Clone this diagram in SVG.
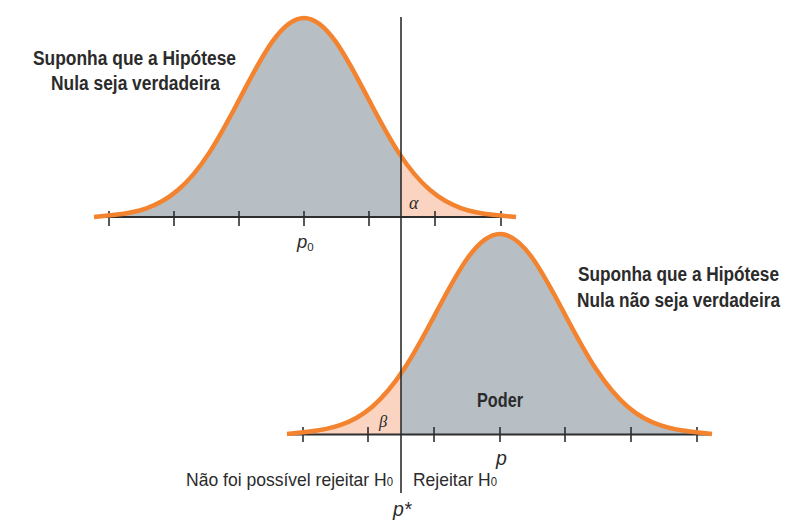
<svg xmlns="http://www.w3.org/2000/svg" width="785" height="523" viewBox="0 0 785 523">
<style>
.lbl{font-family:"Liberation Sans",Arial,sans-serif;fill:#2b2b2b}
.b{font-weight:bold;font-size:19.5px}
.n{font-size:18.5px}
.it{font-style:italic}
.gr{font-family:"Liberation Serif","Times New Roman",serif;font-style:italic;fill:#2b2b2b}
.curve{fill:none;stroke:#f3832f;stroke-width:4.5;stroke-linejoin:round;stroke-linecap:butt}
.axis{stroke:#2e2e2e;stroke-width:1.8;fill:none}
.tick{stroke:#2e2e2e;stroke-width:1.6}
.grey{fill:#b7bfc5}
.peach{fill:#fbd4c1}
</style>
<defs>
<path id="topArea" d="M94,217 L115,214.79 C125.5,213.68 136,211.9 146.5,208.26 C157,204.62 167.5,199.05 178,190.07 C188.5,181.09 199,168.53 209.5,152.38 C220,136.23 230.5,116.43 241,96.31 C251.5,76.19 262,56.01 272.5,41.38 C283,26.75 293.5,18 304,18 C314.5,18 325,26.75 335.5,41.38 C346,56.01 356.5,76.19 367,96.31 C377.5,116.43 388,136.23 398.5,152.38 C409,168.53 419.5,181.09 430,190.07 C440.5,199.05 451,204.62 461.5,208.26 C472,211.9 482.5,213.68 493,214.79 L516,217"/>
<path id="botArea" d="M287,434 L308,431.78 C318.67,430.67 329.33,428.87 340,425.21 C350.67,421.55 361.33,415.96 372,406.94 C382.67,397.92 393.33,385.29 404,369.06 C414.67,352.83 425.33,332.92 436,312.7 C446.67,292.48 457.33,272.21 468,257.5 C478.67,242.79 489.33,234 500,234 C510.67,234 521.33,242.79 532,257.5 C542.67,272.21 553.33,292.48 564,312.7 C574.67,332.92 585.33,352.83 596,369.06 C606.67,385.29 617.33,397.92 628,406.94 C638.67,415.96 649.33,421.55 660,425.21 C670.67,428.87 681.33,430.67 692,431.78 L712,434"/>
<clipPath id="leftOf"><rect x="0" y="0" width="401" height="523"/></clipPath>
<clipPath id="rightOf"><rect x="401" y="0" width="384" height="523"/></clipPath>
</defs>

<g id="top-distribution">
<use href="#topArea" class="grey" clip-path="url(#leftOf)"/>
<use href="#topArea" class="peach" clip-path="url(#rightOf)"/>
<line class="axis" x1="94" y1="217" x2="516" y2="217"/>
<g class="tick">
<line x1="109" y1="211" x2="109" y2="226"/>
<line x1="174" y1="211" x2="174" y2="226"/>
<line x1="239" y1="211" x2="239" y2="226"/>
<line x1="304" y1="211" x2="304" y2="226"/>
<line x1="369" y1="211" x2="369" y2="226"/>
<line x1="435" y1="211" x2="435" y2="226"/>
<line x1="501" y1="211" x2="501" y2="226"/>
</g>
<use href="#topArea" class="curve"/>
<text class="gr" x="409" y="209" font-size="18">α</text>
<text class="lbl it" x="297" y="248" font-size="18.5">p<tspan font-style="normal" font-size="11.5" dy="2.5">0</tspan></text>
</g>

<g id="bottom-distribution">
<use href="#botArea" class="peach" clip-path="url(#leftOf)"/>
<use href="#botArea" class="grey" clip-path="url(#rightOf)"/>
<line class="axis" x1="287" y1="434.5" x2="711" y2="434.5"/>
<g class="tick">
<line x1="303" y1="427" x2="303" y2="442"/>
<line x1="368" y1="427" x2="368" y2="442"/>
<line x1="434" y1="427" x2="434" y2="442"/>
<line x1="500" y1="427" x2="500" y2="442"/>
<line x1="565" y1="427" x2="565" y2="442"/>
<line x1="631" y1="427" x2="631" y2="442"/>
<line x1="697" y1="427" x2="697" y2="442"/>
</g>
<use href="#botArea" class="curve"/>
<text class="gr" x="379" y="427" font-size="16.5">β</text>
<text class="lbl b" x="477" y="407" textLength="46" lengthAdjust="spacingAndGlyphs">Poder</text>
<text class="lbl it" x="496" y="465" font-size="19.5">p</text>
</g>

<g id="connectors">
<line x1="401" y1="17" x2="401" y2="493" stroke="#2e2e2e" stroke-width="1.6"/>
</g>

<g id="label-null-true">
<text class="lbl b" x="33" y="64.5" textLength="203" lengthAdjust="spacingAndGlyphs">Suponha que a Hipótese</text>
<text class="lbl b" x="51" y="90" textLength="169" lengthAdjust="spacingAndGlyphs">Nula seja verdadeira</text>
</g>

<g id="label-null-false">
<text class="lbl b" x="578" y="281" textLength="201" lengthAdjust="spacingAndGlyphs">Suponha que a Hipótese</text>
<text class="lbl b" x="577" y="307" textLength="203" lengthAdjust="spacingAndGlyphs">Nula não seja verdadeira</text>
</g>

<g id="decision-labels">
<text class="lbl n" x="186" y="485.5" textLength="207" lengthAdjust="spacingAndGlyphs">Não foi possível rejeitar H<tspan font-size="12">0</tspan></text>
<text class="lbl n" x="413" y="485.5" textLength="84" lengthAdjust="spacingAndGlyphs">Rejeitar H<tspan font-size="12">0</tspan></text>
<text class="lbl it" x="393" y="516" font-size="19.5">p*</text>
</g>
</svg>
